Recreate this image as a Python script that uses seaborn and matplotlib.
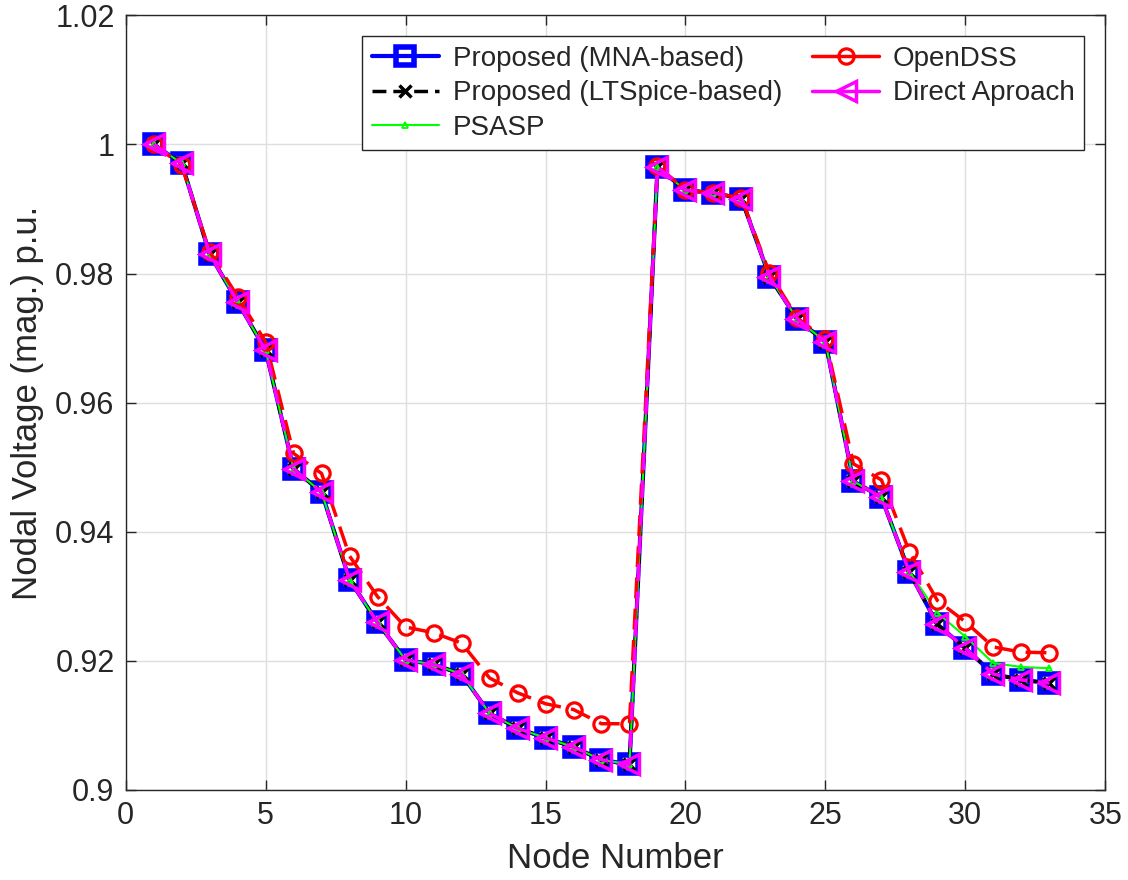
import numpy as np
import pandas as pd
import matplotlib
matplotlib.use("Agg")
import matplotlib.pyplot as plt
from matplotlib.ticker import FuncFormatter
import seaborn as sns

# Node numbers of the 33-bus feeder
nodes = list(range(1, 34))

# Nodal voltage magnitudes (p.u.) per method
v_mna = [1.0000, 0.9971, 0.9830, 0.9756, 0.9681, 0.9497, 0.9461, 0.9325, 0.9259,
         0.9201, 0.9194, 0.9179, 0.9118, 0.9095, 0.9080, 0.9066, 0.9046, 0.9039,
         0.9965, 0.9929, 0.9925, 0.9916, 0.9795, 0.9729, 0.9694, 0.9478, 0.9453,
         0.9337, 0.9256, 0.9219, 0.9179, 0.9170, 0.9165]
v_ltspice = list(v_mna)
v_psasp = v_mna[:27] + [0.9338, 0.9274, 0.9237, 0.9196, 0.9190, 0.9188]
v_opendss = [1.0000, 0.9968, 0.9834, 0.9764, 0.9694, 0.9521, 0.9490, 0.9362, 0.9299,
             0.9252, 0.9243, 0.9227, 0.9173, 0.9150, 0.9133, 0.9124, 0.9102, 0.9102,
             0.9967, 0.9929, 0.9925, 0.9917, 0.9801, 0.9731, 0.9698, 0.9505, 0.9480,
             0.9369, 0.9293, 0.9260, 0.9221, 0.9213, 0.9212]
v_direct = list(v_mna)

labels = ["Proposed (MNA-based)", "Proposed (LTSpice-based)", "PSASP",
          "OpenDSS", "Direct Aproach"]

sns.set_theme(style="white")
plt.rcParams["font.family"] = ["Liberation Sans", "DejaVu Sans"]

fig = plt.figure(figsize=(11.28, 8.8), dpi=100)
ax = fig.add_axes([0.1114, 0.1028, 0.8685, 0.8796])

series = [
    (v_mna, dict(color=(0, 0, 1), lw=3.0, ls="-", marker="s", ms=13,
                 mfc="none", mec=(0, 0, 1), mew=4.0)),
    (v_ltspice, dict(color="black", lw=2.5, ls=(0, (4, 2)), marker="x", ms=8,
                     mfc="none", mec="black", mew=2.5)),
    (v_psasp, dict(color=(0, 1, 0), lw=1.5, ls="-", marker="^", ms=5,
                   mfc="none", mec=(0, 1, 0), mew=1.3)),
    (v_opendss, dict(color=(1, 0, 0), lw=2.5, ls=(0, (6, 3)), marker="o", ms=11,
                     mfc="none", mec=(1, 0, 0), mew=2.3)),
    (v_direct, dict(color=(1, 0, 1), lw=2.5, ls=(0, (5, 3)), marker="<", ms=14,
                    mfc="none", mec=(1, 0, 1), mew=2.5)),
]

for (vals, style), lab in zip(series, labels):
    df = pd.DataFrame({"node": nodes, "voltage": vals})
    sns.lineplot(data=df, x="node", y="voltage", ax=ax, label=lab,
                 legend=False, **style)

ax.set_xlim(0, 35)
ax.set_ylim(0.9, 1.02)
ax.set_xticks(np.arange(0, 36, 5))
ax.set_yticks(np.arange(0.90, 1.0201, 0.02))
ax.yaxis.set_major_formatter(FuncFormatter(lambda v, p: f"{v:g}"))
ax.grid(True, color="#dedede", lw=1.0)
ax.tick_params(axis="both", which="both", direction="in", length=7, width=1.0,
               labelsize=22, colors="#262626", top=True, right=True,
               bottom=True, left=True, pad=8)
for sp in ax.spines.values():
    sp.set_color("#262626")
    sp.set_linewidth(1.0)

ax.set_xlabel("Node Number", fontsize=25, color="#262626", labelpad=8)
ax.set_ylabel("Nodal Voltage (mag.) p.u.", fontsize=25, color="#262626", labelpad=8)

# Legend keys drawn with solid line segments, except the LTSpice entry
handles, hl = ax.get_legend_handles_labels()
leg = ax.legend(handles, hl, ncol=2, loc="upper right", fontsize=20,
                frameon=True, fancybox=False, edgecolor="#262626",
                framealpha=1.0, borderaxespad=0.75, handlelength=2.4,
                columnspacing=1.1, labelspacing=0.3, handletextpad=0.5,
                borderpad=0.35)
leg.get_frame().set_linewidth(1.0)
for line in leg.get_lines():
    if line.get_color() != "black":
        line.set_linestyle("-")

fig.savefig("out.png", dpi=100, facecolor="white")
